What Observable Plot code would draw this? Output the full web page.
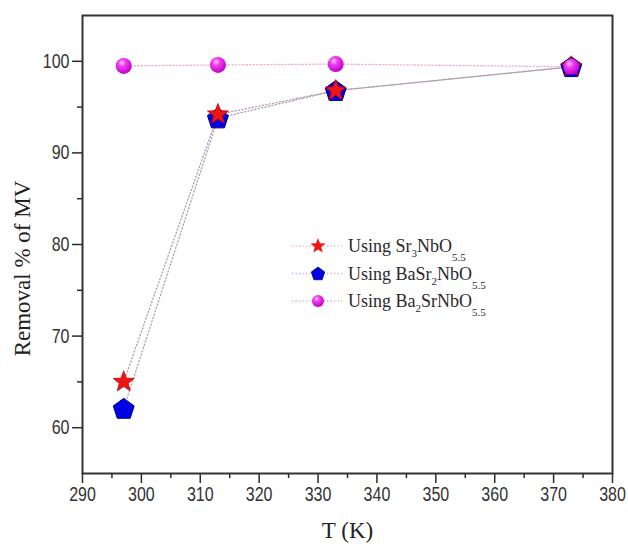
<!DOCTYPE html>
<html>
<head>
<meta charset="utf-8">
<script src="https://cdn.jsdelivr.net/npm/d3@7"></script>
<script src="https://cdn.jsdelivr.net/npm/@observablehq/plot@0.6"></script>
<style>
  html, body { margin: 0; padding: 0; background: #fff; }
  #chart { width: 628px; height: 544px; }
</style>
</head>
<body>
<div id="chart"></div>
<script>
// ---- data ----
const temps = [297, 313, 333, 373];
const sr3NbO = [65.0, 94.2, 96.8, 99.4];
const baSr2NbO = [62.1, 93.8, 96.8, 99.4];
const ba2SrNbO = [99.5, 99.6, 99.7, 99.4];
const xTicks = [290, 300, 310, 320, 330, 340, 350, 360, 370, 380];
const xMinorTicks = [295, 305, 315, 325, 335, 345, 355, 365, 375];
const yTicks = [60, 70, 80, 90, 100];
const yMinorTicks = [65, 75, 85, 95];
const xLabel = "T (K)";
const yLabel = "Removal % of MV";

const rows = temps.map((t, i) => ({t, sr3: sr3NbO[i], basr2: baSr2NbO[i], ba2sr: ba2SrNbO[i]}));

const serif = "'Liberation Serif', 'Times New Roman', serif";
const sans = "'Liberation Sans', Arial, sans-serif";

// custom symbols
function polyStar(context, R, rInner, n) {
  for (let k = 0; k < 2 * n; k++) {
    const rad = k % 2 === 0 ? R : rInner;
    const a = -Math.PI / 2 + k * Math.PI / n;
    const x = rad * Math.cos(a), y = rad * Math.sin(a);
    if (k === 0) context.moveTo(x, y); else context.lineTo(x, y);
  }
  context.closePath();
}
const starSymbol = {
  draw(context, size) { const r = Math.sqrt(size / Math.PI); polyStar(context, r, r * 0.42, 5); }
};
const pentagonSymbol = {
  draw(context, size) {
    const r = Math.sqrt(size / Math.PI);
    for (let k = 0; k < 5; k++) {
      const a = -Math.PI / 2 + k * 2 * Math.PI / 5;
      const x = r * Math.cos(a), y = r * Math.sin(a) + r * 0.08;
      if (k === 0) context.moveTo(x, y); else context.lineTo(x, y);
    }
    context.closePath();
  }
};

const lineDash = "1.2,2.3";

const plot = Plot.plot({
  width: 628,
  height: 544,
  marginLeft: 82,
  marginRight: 16,
  marginTop: 15,
  marginBottom: 71,
  x: {domain: [290, 380]},
  y: {domain: [55, 105]},
  style: {background: "#fff", color: "#2a2a2a", fontFamily: sans, overflow: "visible"},
  marks: [
    Plot.axisX({ticks: xTicks, tickSize: 10, tickPadding: 3, fontSize: 20, label: null, strokeWidth: 1.5, fill: "#333", tickFormat: d => String(d)}),
    Plot.axisX({ticks: xMinorTicks, tickSize: 5, text: null, label: null, strokeWidth: 1.5}),
    Plot.axisY({ticks: yTicks, tickSize: 10, tickPadding: 3, fontSize: 20, label: null, strokeWidth: 1.5, fill: "#333", tickFormat: d => String(d)}),
    Plot.axisY({ticks: yMinorTicks, tickSize: 5, text: null, label: null, strokeWidth: 1.5}),
    Plot.frame({stroke: "#333", strokeWidth: 2}),
    Plot.line(rows, {x: "t", y: "sr3", stroke: "#b89aa8", strokeWidth: 1.3, strokeDasharray: lineDash}),
    Plot.line(rows, {x: "t", y: "basr2", stroke: "#a8a0b8", strokeWidth: 1.3, strokeDasharray: lineDash}),
    Plot.line(rows, {x: "t", y: "ba2sr", stroke: "#f0a8cc", strokeWidth: 1.3, strokeDasharray: lineDash}),
    Plot.dot(rows, {x: "t", y: "basr2", symbol: pentagonSymbol, r: 11, fill: "#0000e8", stroke: "#000080", strokeWidth: 1}),
    Plot.dot(rows, {x: "t", y: "sr3", symbol: starSymbol, r: 11, fill: "#ee1515", stroke: "#c00000", strokeWidth: 0.8}),
    Plot.dot(rows, {x: "t", y: "ba2sr", r: 8, fill: "url(#sphereGrad)", stroke: "none"}),
    Plot.text([xLabel], {text: d => d, frameAnchor: "bottom", textAnchor: "middle", dy: 64, fontFamily: serif, fontSize: 23, fill: "#222"}),
    Plot.text([yLabel], {text: d => d, frameAnchor: "left", textAnchor: "middle", rotate: -90, dx: -60, dy: 24, fontFamily: serif, fontSize: 23, fill: "#222"})
  ]
});

const svg = d3.select(plot);
// tick labels: condensed (narrow sans look), scaled about each label's own anchor
svg.selectAll("text").filter(function () { return /^\d+$/.test(this.textContent.trim()); })
  .each(function () {
    const tr = this.getAttribute("transform") || "";
    if (tr.indexOf("translate") >= 0) this.setAttribute("transform", tr + " scale(0.8,1)");
  });

const defs = svg.insert("defs", ":first-child");
const grad = defs.append("radialGradient").attr("id", "sphereGrad")
  .attr("cx", "0.4").attr("cy", "0.35").attr("r", "0.65").attr("fx", "0.38").attr("fy", "0.3");
grad.append("stop").attr("offset", "0").attr("stop-color", "#ffc8ff");
grad.append("stop").attr("offset", "0.35").attr("stop-color", "#f040f0");
grad.append("stop").attr("offset", "1").attr("stop-color", "#c000c8");

// legend
const legendItems = [
  {sym: "star", parts: [["Using Sr", 0], ["3", 5], ["NbO", 0], ["5.5", 9]], line: "#e8a8c8"},
  {sym: "pent", parts: [["Using BaSr", 0], ["2", 5], ["NbO", 0], ["5.5", 9]], line: "#c8a8e0"},
  {sym: "sphere", parts: [["Using Ba", 0], ["2", 5], ["SrNbO", 0], ["5.5", 9]], line: "#e8a8c8"}
];
const lg = svg.append("g").attr("class", "legend");
legendItems.forEach((it, i) => {
  const cy = 246 + i * 27.5;
  const g = lg.append("g").attr("transform", `translate(0,${cy})`);
  g.append("line").attr("x1", 292).attr("x2", 342).attr("y1", 0).attr("y2", 0)
    .attr("stroke", it.line).attr("stroke-width", 1.3).attr("stroke-dasharray", lineDash);
  const p = d3.path();
  if (it.sym === "star") {
    polyStar(p, 8, 3.4, 5);
    g.append("path").attr("d", p.toString()).attr("transform", "translate(318,0)").attr("fill", "#ee1515");
  } else if (it.sym === "pent") {
    pentagonSymbol.draw(p, Math.PI * 7 * 7);
    g.append("path").attr("d", p.toString()).attr("transform", "translate(318,0)").attr("fill", "#0000e8").attr("stroke", "#000080").attr("stroke-width", 0.8);
  } else {
    g.append("circle").attr("cx", 318).attr("cy", 0).attr("r", 6).attr("fill", "url(#sphereGrad)");
  }
  const t = g.append("text").attr("x", 348).attr("y", 6)
    .attr("text-anchor", "start")
    .attr("font-family", serif).attr("font-size", 18).attr("fill", "#2a2a2a");
  let cur = 0;
  it.parts.forEach(([s, off]) => {
    t.append("tspan").attr("dy", off - cur).attr("font-size", off ? 11 : 18).text(s);
    cur = off;
  });
});

document.getElementById("chart").appendChild(plot);
</script>
</body>
</html>
